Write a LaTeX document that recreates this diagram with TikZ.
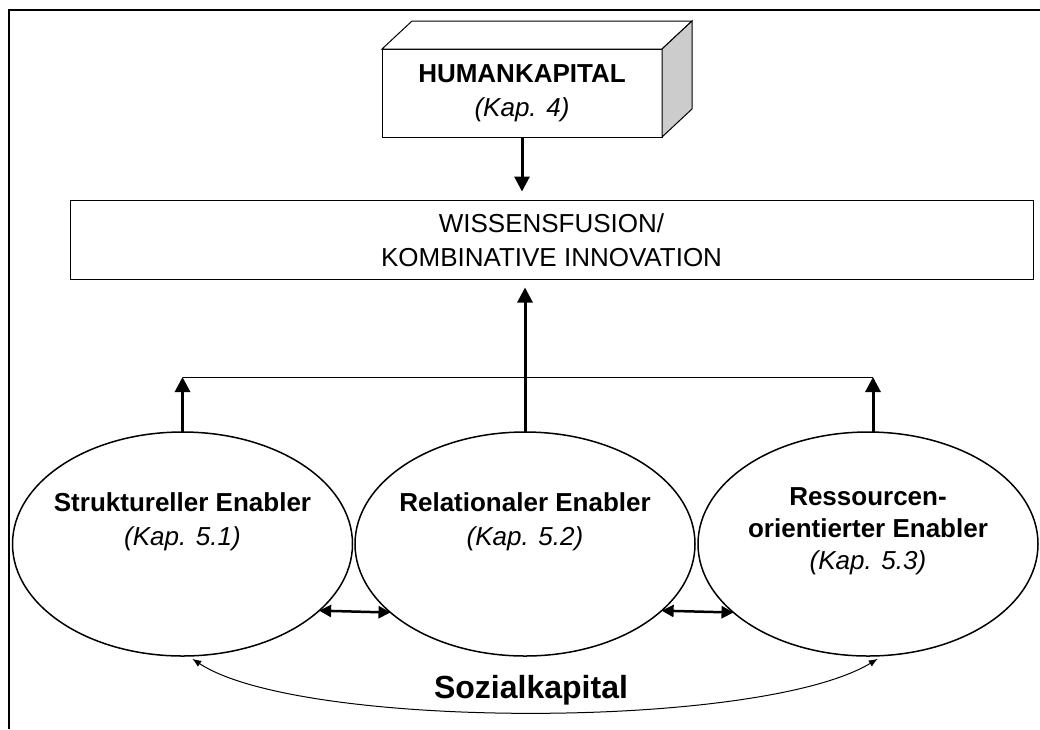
\documentclass[tikz,border=0pt]{standalone}
\usepackage{fontspec}
\setmainfont{Liberation Sans}
\usetikzlibrary{arrows.meta,shapes.geometric,calc}
\begin{document}
\begin{tikzpicture}[x=1pt,y=-1pt,
  txt/.style={font=\fontsize{26}{34}\selectfont,align=center,inner sep=0pt},
  cuboid/.style={draw,line width=1pt,fill=white,minimum width=280pt,minimum height=88pt,inner sep=0pt,outer sep=0pt,txt},
  fusionbox/.style={draw,line width=1pt,minimum width=963pt,minimum height=79pt,inner sep=0pt,outer sep=0pt,txt},
  enabler/.style={draw,ellipse,line width=1.5pt,minimum width=340pt,minimum height=224pt,inner sep=0pt,outer sep=0pt},
  thickarrow/.style={line width=3pt,-{Triangle[length=15pt,width=15pt]}},
  dblarrow/.style={line width=2.5pt,{Triangle[length=12pt,width=12pt]}-{Triangle[length=12pt,width=12pt]}},
  thinarc/.style={line width=1pt,{Latex[length=9pt,width=7pt]}-{Latex[length=9pt,width=7pt]}}
]
\useasboundingbox (0,0) rectangle (1040,729);

% outer frame
\draw[line width=2pt] (9,729) -- (9,10) -- (1040,10);

% human capital block (front face, top and side)
\node[cuboid] (hk) at (522,93) {\textbf{HUMANKAPITAL}\\\textit{(Kap. 4)}};
\draw[line width=1pt,fill=white] (hk.north west) -- ++(30,-28) -- ++(280,0) -- (hk.north east) -- cycle;
\draw[line width=1pt,fill=gray!40] (hk.north east) -- ++(30,-28) -- ++(0,88) -- (hk.south east) -- cycle;

% knowledge fusion box
\node[fusionbox] (wf) at (551.5,240) {WISSENSFUSION/\\KOMBINATIVE INNOVATION};

% the three enablers
\node[enabler] (e1) at (182.5,544) {};
\node[enabler] (e2) at (525,544) {};
\node[enabler] (e3) at (868,544) {};
\node[txt] (t1) at (182.5,522) {\textbf{Struktureller Enabler}\\\textit{(Kap. 5.1)}};
\node[txt] (t2) at (525,522) {\textbf{Relationaler Enabler}\\\textit{(Kap. 5.2)}};
\node[txt,font=\fontsize{26}{32}\selectfont] (t3) at (868,531) {\textbf{Ressourcen-}\\\textbf{orientierter Enabler}\\\textit{(Kap. 5.3)}};

% arrows into the fusion box
\draw[thickarrow,shorten >=9pt] (hk.south) -- (hk.south |- wf.north);
\draw[thickarrow,shorten >=8pt] (e2.north) -- (e2.north |- wf.south);

% collecting line above the outer enablers
\coordinate (jl) at (182.5,377);
\coordinate (jr) at (873,377);
\draw[line width=1pt] (jl) -- (jr);
\draw[thickarrow] (e1.north) -- (jl);
\draw[thickarrow] ([xshift=5pt]e3.north) -- (jr);

% mutual links between neighbouring enablers
\draw[dblarrow] (e1.-26.7) -- (e2.-153.3);
\draw[dblarrow] (e2.-26.7) -- (e3.-153.3);

% social capital arc
\draw[thinarc] ([yshift=-3pt]e1.-85) .. controls (300,730) and (760,730) .. ([yshift=-3pt]e3.-85);
\node[inner sep=0pt,font=\fontsize{32}{38}\selectfont\bfseries] (soz) at (531,690) {Sozialkapital};
\end{tikzpicture}
\end{document}
